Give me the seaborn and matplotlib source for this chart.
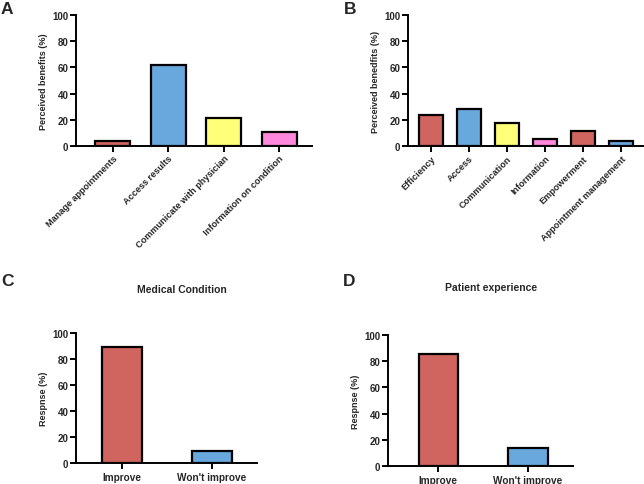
import matplotlib
matplotlib.use("Agg")
import matplotlib.pyplot as plt
import seaborn as sns

# Panel A
a_labels = ["Manage appointments", "Access results", "Communicate with physician", "Information on condition"]
a_values = [3.5, 62, 21.5, 11]
a_colors = ["#D0645E", "#68A8DC", "#FFFF7A", "#FF88DD"]

# Panel B
b_labels = ["Efficiency", "Access", "Communication", "Information", "Empowerment", "Appointment management"]
b_values = [23.5, 28.5, 17.5, 5.5, 11.5, 3.5]
b_colors = ["#D0645E", "#68A8DC", "#FFFF7A", "#FF88DD", "#D0645E", "#68A8DC"]

# Panels C and D
resp_labels = ["Improve", "Won't improve"]
c_values = [89.5, 9]
d_values = [85.5, 13.5]
resp_colors = ["#D0645E", "#68A8DC"]

sns.set_style("ticks")
plt.rcParams["font.family"] = ["Liberation Sans", "DejaVu Sans"]
plt.rcParams["font.weight"] = "bold"
plt.rcParams["axes.labelweight"] = "bold"

W, H = 644, 485
fig = plt.figure(figsize=(6.44, 4.85), dpi=100)


def make_ax(left, right, top, bottom):
    return fig.add_axes([left / W, 1 - bottom / H, (right - left) / W, (bottom - top) / H])


def bar_panel(ax, labels, values, colors, width, xlim, ylabel, rotate):
    sns.barplot(x=labels, y=values, hue=labels, palette=colors, legend=False,
                width=width, edgecolor="black", linewidth=1.6, ax=ax, saturation=1)
    ax.set_ylim(0, 100)
    ax.set_xlim(*xlim)
    ax.set_yticks([0, 20, 40, 60, 80, 100])
    ax.set_ylabel(ylabel, fontsize=6.5, fontweight="bold", labelpad=3)
    for s in ["top", "right"]:
        ax.spines[s].set_visible(False)
    for s in ["left", "bottom"]:
        ax.spines[s].set_linewidth(1.4)
        ax.spines[s].set_color("black")
    ax.tick_params(axis="both", width=1.4, length=4.5, color="black", labelsize=7, pad=1)
    if rotate:
        ax.set_xticks(range(len(labels)))
        ax.set_xticklabels(labels, rotation=45, ha="right", rotation_mode="anchor", fontsize=6.6)
    else:
        ax.tick_params(axis="x", labelsize=7.2, pad=2)


axA = make_ax(76, 312, 16, 147)
bar_panel(axA, a_labels, a_values, a_colors, 0.63, (-0.66, 3.59), "Perceived benefits (%)", True)

axB = make_ax(408, 643, 16, 147)
bar_panel(axB, b_labels, b_values, b_colors, 0.63, (-0.6, 5.58), "Perceived benedfits (%)", True)

axC = make_ax(76, 257, 334, 464)
bar_panel(axC, resp_labels, c_values, resp_colors, 0.44, (-0.51, 1.5), "Respnse (%)", False)

axD = make_ax(388, 573, 336, 467)
bar_panel(axD, resp_labels, d_values, resp_colors, 0.44, (-0.56, 1.5), "Respnse (%)", False)

fig.text(182 / W, 1 - 290 / H, "Medical Condition", ha="center", va="center", fontsize=7.5, fontweight="bold")
fig.text(491 / W, 1 - 288 / H, "Patient experience", ha="center", va="center", fontsize=7.5, fontweight="bold")

for letter, x, y in [("A", 1, 9), ("B", 344, 9), ("C", 1, 282), ("D", 343, 282)]:
    fig.text(x / W, 1 - y / H, letter, ha="left", va="center", fontsize=12.5, fontweight="bold")

fig.savefig("out.png", dpi=100)
